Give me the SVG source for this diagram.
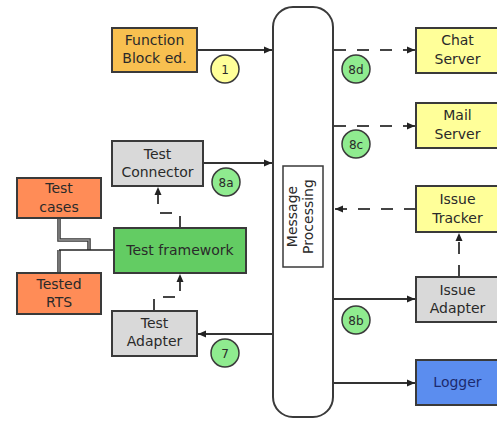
<svg xmlns="http://www.w3.org/2000/svg" width="497" height="423" viewBox="0 0 497 423">
  <style>
    .box { stroke: #3a3a3a; stroke-width: 2; }
    .lbl { font-family: "DejaVu Sans", "Liberation Sans", sans-serif; font-size: 14px; fill: #2a2a2a; text-anchor: middle; }
    .num { font-family: "DejaVu Sans", "Liberation Sans", sans-serif; font-size: 12px; fill: #2a2a2a; text-anchor: middle; }
    .badge { stroke: #3a3a3a; stroke-width: 1.5; }
    .green { fill: #8feb8f; }
    .yellowb { fill: #ffff99; }
    .ln { fill: none; stroke: #333; stroke-width: 1.8; }
    .dash { fill: none; stroke: #444; stroke-width: 2; stroke-dasharray: 12 11; }
    .gray { fill: #d9d9d9; }
    .pale { fill: #ffff99; }
    .orange { fill: #ff8c57; }
  </style>
  <defs>
    <marker id="ah" markerUnits="userSpaceOnUse" markerWidth="10" markerHeight="10" viewBox="0 0 10 10" refX="9" refY="5" orient="auto">
      <path d="M1,1.5 L9,5 L1,8.5 Z" fill="#222"/>
    </marker>
  </defs>
  <rect x="0" y="0" width="497" height="423" fill="#ffffff"/>

  <g id="connectors">
    <path class="ln" d="M197,50 H272" marker-end="url(#ah)"/>
    <path class="ln" d="M203,163 H272" marker-end="url(#ah)"/>
    <path class="ln" d="M273,334 H198" marker-end="url(#ah)"/>
    <path class="dash" d="M334,50 H415" marker-end="url(#ah)"/>
    <path class="dash" d="M334,126 H415" marker-end="url(#ah)"/>
    <path class="dash" d="M416,209 H335" marker-end="url(#ah)"/>
    <path class="ln" d="M334,299 H415" marker-end="url(#ah)"/>
    <path class="ln" d="M334,383 H415" marker-end="url(#ah)"/>
    <path class="dash" d="M459,277 V233" marker-end="url(#ah)"/>
    <path class="dash" d="M180,228 V213 H158 V187" marker-end="url(#ah)"/>
    <path class="dash" d="M154,311 V297 H180 V274" marker-end="url(#ah)"/>
    <path d="M59,218 V240 H89 V250 M59,273 V250" fill="none" stroke="#333" stroke-width="3.5"/>
    <path d="M59,218 V240 H89 V250 M59,273 V250" fill="none" stroke="#999" stroke-width="1.3"/>
    <path d="M59,250 H114" fill="none" stroke="#222" stroke-width="1.6"/>
  </g>

  <g id="message-processing">
    <rect x="273" y="7" width="60" height="410" rx="20" ry="20" fill="#ffffff" stroke="#3a3a3a" stroke-width="2"/>
    <rect x="283" y="166" width="40" height="101" fill="#ffffff" stroke="#3a3a3a" stroke-width="1.5"/>
    <g transform="translate(297,216.5) rotate(-90)">
      <text class="lbl" x="0" y="0">Message</text>
      <text class="lbl" x="0" y="16">Processing</text>
    </g>
  </g>

  <g id="function-block">
    <rect class="box" x="112" y="28" width="85" height="44" fill="#f8c050"/>
    <text class="lbl" x="154.5" y="45">Function</text>
    <text class="lbl" x="154.5" y="63">Block ed.</text>
  </g>
  <g id="badge-1">
    <circle class="badge yellowb" cx="225" cy="69" r="14"/>
    <text class="num" x="225" y="73.5">1</text>
  </g>

  <g id="test-connector">
    <rect class="box gray" x="112" y="141" width="91" height="45"/>
    <text class="lbl" x="157.5" y="159">Test</text>
    <text class="lbl" x="157.5" y="177">Connector</text>
  </g>
  <g id="badge-8a">
    <circle class="badge green" cx="226" cy="182" r="14"/>
    <text class="num" x="226" y="186.5">8a</text>
  </g>

  <g id="test-cases">
    <rect class="box orange" x="17" y="178" width="84" height="40"/>
    <text class="lbl" x="59" y="193">Test</text>
    <text class="lbl" x="59" y="212">cases</text>
  </g>

  <g id="tested-rts">
    <rect class="box orange" x="17" y="273" width="84" height="41"/>
    <text class="lbl" x="59" y="289">Tested</text>
    <text class="lbl" x="59" y="307">RTS</text>
  </g>

  <g id="test-framework">
    <rect class="box" x="114" y="228" width="132" height="45" fill="#63cc63"/>
    <text class="lbl" x="180" y="255">Test framework</text>
  </g>

  <g id="test-adapter">
    <rect class="box gray" x="112" y="311" width="85" height="45"/>
    <text class="lbl" x="154.5" y="328">Test</text>
    <text class="lbl" x="154.5" y="346">Adapter</text>
  </g>
  <g id="badge-7">
    <circle class="badge green" cx="225" cy="353" r="14"/>
    <text class="num" x="225" y="357.5">7</text>
  </g>

  <g id="chat-server">
    <rect class="box pale" x="416" y="28" width="84" height="45"/>
    <text class="lbl" x="457.5" y="45">Chat</text>
    <text class="lbl" x="457.5" y="64">Server</text>
  </g>
  <g id="badge-8d">
    <circle class="badge green" cx="356" cy="69" r="14"/>
    <text class="num" x="356" y="73.5">8d</text>
  </g>

  <g id="mail-server">
    <rect class="box pale" x="416" y="103" width="84" height="45"/>
    <text class="lbl" x="457.5" y="120">Mail</text>
    <text class="lbl" x="457.5" y="139">Server</text>
  </g>
  <g id="badge-8c">
    <circle class="badge green" cx="356" cy="144" r="14"/>
    <text class="num" x="356" y="148.5">8c</text>
  </g>

  <g id="issue-tracker">
    <rect class="box pale" x="416" y="186" width="84" height="46"/>
    <text class="lbl" x="457.5" y="204">Issue</text>
    <text class="lbl" x="457.5" y="223">Tracker</text>
  </g>

  <g id="issue-adapter">
    <rect class="box gray" x="416" y="277" width="84" height="45"/>
    <text class="lbl" x="457.5" y="295">Issue</text>
    <text class="lbl" x="457.5" y="313">Adapter</text>
  </g>
  <g id="badge-8b">
    <circle class="badge green" cx="356" cy="320" r="14"/>
    <text class="num" x="356" y="324.5">8b</text>
  </g>

  <g id="logger">
    <rect class="box" x="416" y="360" width="84" height="45" fill="#5b8def"/>
    <text class="lbl" x="457.5" y="387" style="fill:#1c2a6e">Logger</text>
  </g>
</svg>
